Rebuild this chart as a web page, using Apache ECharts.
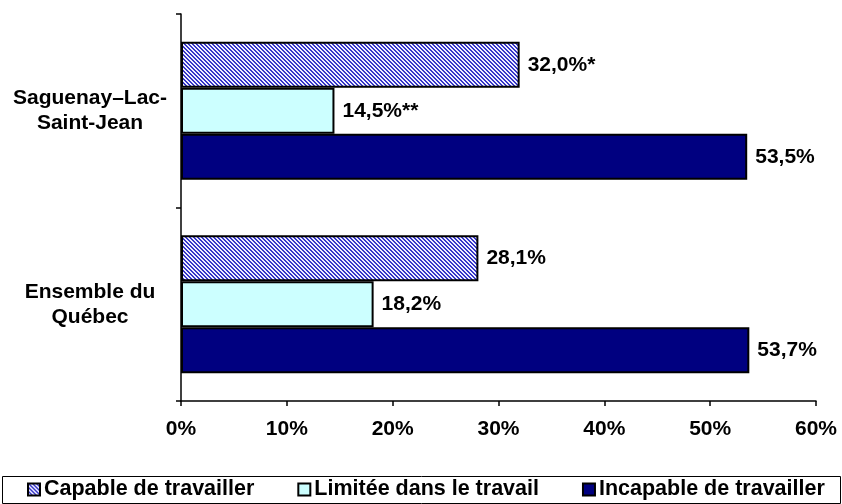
<!DOCTYPE html>
<html>
<head>
<meta charset="utf-8">
<script src="https://cdn.jsdelivr.net/npm/echarts@6/dist/echarts.min.js"></script>
<style>
html,body{margin:0;padding:0;background:#fff;}
#main{width:842px;height:504px;}
</style>
</head>
<body>
<div id="main"></div>
<script>
var regions=['Saguenay–Lac-\nSaint-Jean','Ensemble du\nQuébec'];
var capable=[32.0,28.1];
var limitee=[14.5,18.2];
var incapable=[53.5,53.7];
var capableLab=['32,0%*','28,1%'];
var limiteeLab=['14,5%**','18,2%'];
var incapableLab=['53,5%','53,7%'];

// motif hachuré pour "Capable de travailler"
var pat=document.createElement('canvas');
pat.width=4;pat.height=4;
var c=pat.getContext('2d');
for(var i=0;i<4;i++){
	for(var j=0;j<4;j++){
		c.fillStyle=((i-j+4)%4<2)?'#3636c8':'#eeeeff';
		c.fillRect(i,j,1,1);
	}
}

var font='Liberation Sans, Arial, sans-serif';
function lab(arr){
	return {show:true,position:'right',distance:8,color:'#000',fontWeight:'bold',fontSize:21,fontFamily:font,
		formatter:function(p){return arr[p.dataIndex];}};
}
var myChart=echarts.init(document.getElementById('main'));
var option={
	animation:false,
	grid:{left:181,right:26,top:14,bottom:103},
	graphic:[{type:'rect',shape:{x:2.5,y:476.5,width:838,height:27},
		style:{fill:'none',stroke:'#000',lineWidth:1}}],
	legend:{
		top:477,left:27,
		itemGap:43,
		padding:0,
		itemWidth:12,itemHeight:12,
		icon:'rect',
		textStyle:{fontWeight:'bold',fontSize:21.5,fontFamily:font,color:'#000',lineHeight:25,padding:[0,0,0,-1]},
		data:['Capable de travailler','Limitée dans le travail','Incapable de travailler']
	},
	xAxis:{
		type:'value',min:0,max:60,interval:10,
		axisLine:{show:true,lineStyle:{color:'#000',width:1.5}},
		axisTick:{show:true,length:5,lineStyle:{color:'#000',width:1.5}},
		splitLine:{show:false},
		axisLabel:{formatter:'{value}%',color:'#000',fontWeight:'bold',fontSize:21,fontFamily:font,margin:18}
	},
	yAxis:{
		type:'category',inverse:true,data:regions,
		axisLine:{show:true,lineStyle:{color:'#000',width:1.5}},
		axisTick:{show:true,length:5,lineStyle:{color:'#000',width:1.5}},
		axisLabel:{color:'#000',fontWeight:'bold',fontSize:21,fontFamily:font,align:'center',margin:91,lineHeight:25}
	},
	series:[
		{name:'Capable de travailler',type:'bar',data:capable,barWidth:46,barGap:'0%',
			itemStyle:{color:{image:pat,repeat:'repeat'},borderColor:'#000',borderWidth:2},label:lab(capableLab)},
		{name:'Limitée dans le travail',type:'bar',data:limitee,barWidth:46,
			itemStyle:{color:'#ccffff',borderColor:'#000',borderWidth:2},label:lab(limiteeLab)},
		{name:'Incapable de travailler',type:'bar',data:incapable,barWidth:46,
			itemStyle:{color:'#000080',borderColor:'#000',borderWidth:2},label:lab(incapableLab)}
	]
};
myChart.setOption(option);
</script>
</body>
</html>
